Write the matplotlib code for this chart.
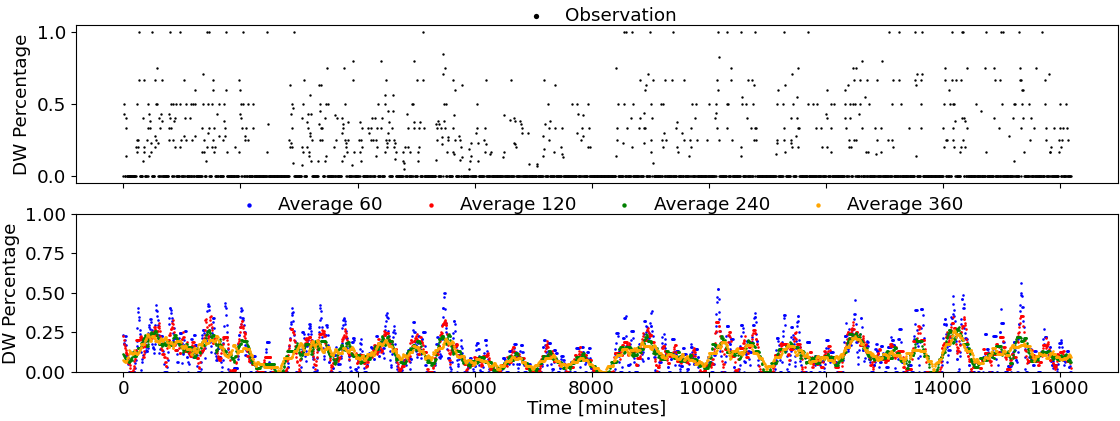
import numpy as np
import pandas as pd
import matplotlib
matplotlib.use("Agg")
import matplotlib.pyplot as plt

plt.rcParams['font.family'] = ['DejaVu Sans']
plt.rcParams['font.size'] = 13.2

# ---- Observation events (time [min], value); all other samples are 0 ----
seg1 = [
    (1.0, [250, 460, 800, 970, 1426, 1443, 1738, 2040, 2460]),
    (0.75, [563]), (0.71, [1370]),
    (0.667, [250, 347, 534, 648, 1045, 1517, 1977]),
    (0.6, [1216, 1517, 1738, 1977]),
    (0.5, [6, 233, 421, 546, 557, 801, 841, 886, 960, 1068, 1142, 1182, 1216, 1352, 1443,
           1511, 1625, 1721, 2011, 2051, 2125, 2210]),
    (0.43, [6, 432, 642, 784, 1596, 1983]),
    (0.4, [51, 335, 602, 801, 875, 1045, 1142, 2011]),
    (0.38, [443, 659, 858, 1721]), (0.36, [2460]),
    (0.333, [34, 404, 443, 631, 773, 801, 1352, 1454, 1528, 1727, 2023, 2097, 2221]),
    (0.3, [1443]),
    (0.28, [534, 1045, 1227, 1625, 1738, 2068]),
    (0.25, [216, 250, 404, 546, 773, 858, 972, 1068, 1170, 1369, 1528, 1710, 2080, 2125]),
    (0.23, [460, 574]),
    (0.2, [216, 250, 347, 546, 875, 972, 1426, 1511, 1568, 1909]),
    (0.167, [233, 347, 449, 1341, 1369, 1540, 1755, 1977, 2460]),
    (0.14, [34, 432]), (0.1, [330, 1409]),
]
seg2 = [
    (1.0, [2902, 5118]), (0.8, [4396, 3913, 4947]),
    (0.75, [3470, 3743]),
    (0.667, [3073, 3925, 4476, 5021, 5118]),
    (0.63, [3328, 3362, 2846]),
    (0.56, [3175, 4493, 4606]),
    (0.5, [2863, 3056, 3351, 3453, 3487, 3754, 4339, 4476, 4936, 4947]),
    (0.47, [2885]), (0.45, [3345, 4493, 4618]),
    (0.43, [2863, 3147, 3186, 4862]), (0.42, [3612]),
    (0.4, [3056, 3453, 3652, 3726, 4237, 4322, 4408]),
    (0.375, [3158, 3828, 4027, 4510, 4976, 5049]),
    (0.36, [3340, 3743]),
    (0.333, [2874, 3147, 3357, 3385, 3743, 4067, 4180, 4226, 4322, 4396, 4595, 4862, 4964,
             5044, 5135]),
    (0.3, [3158, 3737, 4197, 4493]), (0.28, [3175]),
    (0.25, [2829, 3203, 3357, 3385, 3630, 3754, 3840, 4027, 4055, 4237, 4266, 4311, 4481,
            4521, 4618]),
    (0.23, [2857, 3766, 4493, 4624]),
    (0.2, [2846, 2874, 3044, 3158, 3601, 3811, 4078, 4322, 4493, 4618, 4794, 4862, 5044]),
    (0.167, [3073, 3158, 3823, 3942, 4038, 4481, 4646, 4794, 4890, 5032]),
    (0.14, [3158, 3459, 3754, 4322]), (0.12, [4635]),
    (0.1, [3186, 3328, 3442, 3743, 4055, 4777, 5032]),
    (0.09, [2902, 4794]), (0.075, [3044, 3908]), (0.05, [4794]),
]
seg3 = [
    (0.85, [5458]), (0.75, [5486]), (0.71, [5475]),
    (0.667, [5645, 6179, 6611, 7190]),
    (0.63, [5787, 7372]), (0.6, [5657]),
    (0.5, [5475, 5498, 6037, 7259, 7662, 7758, 7946]),
    (0.43, [7758]), (0.42, [5645, 6497, 7844]), (0.4, [6679]), (0.39, [6611]),
    (0.38, [5361, 5475, 6679, 6781, 7264]),
    (0.36, [5344, 5384, 6804, 7207]),
    (0.333, [5361, 5441, 5486, 5628, 6037, 6179, 6804, 7264, 7372, 7491, 7827, 7946]),
    (0.3, [6026, 6804, 6918, 7758]),
    (0.28, [5742, 7179, 7844]), (0.27, [5441, 5543]),
    (0.25, [5344, 5543, 5657, 5742, 6168, 7264, 7815]),
    (0.23, [5929, 6043, 6679]), (0.22, [5441, 6179, 6690]),
    (0.2, [5759, 6707, 7474, 7946, 7974]), (0.19, [5912, 7179]),
    (0.167, [5532, 5628, 6179, 6270, 6492, 7349]),
    (0.15, [5645, 6270, 7491]), (0.14, [5941, 7179]), (0.13, [5782, 6480, 7503]),
    (0.11, [5344, 5742]), (0.1, [5912, 6054]),
    (0.08, [6923, 7065]), (0.07, [7065]), (0.05, [5912]),
]
seg4 = [
    (1.0, [8543, 8583, 8679, 8997, 9389, 10145, 10315, 10554, 10798]),
    (0.83, [10156]), (0.75, [8412, 10383]), (0.71, [8963]),
    (0.667, [8838, 9048, 9264, 9378, 9577, 10133, 10383, 10673, 10741]),
    (0.63, [8906, 10770]), (0.6, [8895, 10145]), (0.55, [10571]),
    (0.5, [8429, 8554, 8696, 9009, 9179, 9224, 9702, 9787, 10003, 10133, 10304, 10326, 10571,
           10639, 10752]),
    (0.44, [8895, 10116]),
    (0.4, [8679, 8810, 9020, 9775, 10099, 10656]),
    (0.375, [9452]),
    (0.333, [8429, 8600, 8810, 8884, 8906, 9452, 9702, 10145, 10315, 10724, 10781, 10809]),
    (0.3, [9224, 9548]),
    (0.25, [8429, 9009, 9207, 9281, 9577, 9679, 9792, 9974, 10156, 10400, 10770, 10809]),
    (0.23, [8543, 8884]),
    (0.2, [8696, 9224, 9463, 9690, 10554]),
    (0.167, [9020, 9474]),
    (0.14, [8412, 9662, 10542]), (0.09, [9054]),
]
seg5 = [
    (1.0, [11280, 11689, 13087, 13251]),
    (0.8, [12615, 12967]), (0.75, [11524, 12473, 12513]), (0.71, [11422]),
    (0.667, [12473, 12575, 12689, 12871, 13143, 13251]),
    (0.63, [11292, 12377]), (0.6, [11178, 12007, 12320]), (0.55, [11496, 12672]),
    (0.5, [11167, 11269, 11433, 11689, 11780, 11848, 12087, 12149, 12331, 12405, 12473, 12501,
           12587, 12729, 13138, 13280]),
    (0.43, [12007, 12575]),
    (0.4, [11411, 11507, 12030, 12331, 12405]),
    (0.333, [11297, 11519, 11536, 11837, 11922, 12093, 12343, 12615, 12843, 12939, 13427]),
    (0.28, [11496]),
    (0.25, [11167, 11292, 11411, 12399, 12490, 12513, 12882, 13058, 13126]),
    (0.23, [11155, 11411]),
    (0.2, [11422, 11536, 11933, 12019, 12399, 12416, 13155]),
    (0.167, [11309, 12087, 12689, 12729, 12944]),
    (0.15, [11155, 12859]),
]
seg6 = [
    (1.0, [13524, 13638, 14161, 14320, 14348, 14746, 15001, 15018, 15314, 15694]),
    (0.75, [14036, 14405, 14717, 14871, 15314, 15586]),
    (0.71, [13541, 13638, 15813]),
    (0.667, [13541, 13638, 14019, 14149, 14223, 14320, 14888, 14961, 15314, 15342, 15740]),
    (0.63, [13541]), (0.6, [14104, 15342, 15359]),
    (0.5, [13621, 14019, 14121, 14166, 14189, 14564, 15018, 15200, 15228, 15353, 15473, 15757,
           15995, 16109]),
    (0.45, [14649]),
    (0.4, [14320, 14359, 14876, 15200, 15359, 15495]),
    (0.38, [14206, 14376]),
    (0.333, [13621, 14007, 14166, 14422, 14961, 15342, 15552, 15757, 15910, 15995, 16052, 16120]),
    (0.28, [15132]),
    (0.25, [14053, 14075, 14166, 14337, 15495, 15757, 15984, 16041, 16137]),
    (0.2, [14019, 14178, 14320, 14388, 15853, 16007]),
    (0.167, [14303, 14734, 15370, 15825, 15842, 15984]),
    (0.14, [13541]), (0.1, [15228]),
]
segments = [seg1, seg2, seg3, seg4, seg5, seg6]

t_end = 16185          # last observation time [min]
step = 7.5             # sampling interval [min]
windows = [8, 16, 32, 48]          # samples in 60/120/240/360 minutes
avg_labels = ['Average 60', 'Average 120', 'Average 240', 'Average 360']
avg_colors = ['blue', 'red', 'green', 'orange']

# ---- Build the observation series on the sampling grid ----
time = np.arange(0, t_end + step, step)
obs = np.zeros(len(time))
events = sorted((t, v) for seg in segments for v, ts in seg for t in ts)
for t, v in events:
    i0 = int(round(t / step))
    for d in [0, 1, -1, 2, -2, 3, -3, 4, -4]:
        i = i0 + d
        if 0 <= i < len(obs) and obs[i] == 0:
            obs[i] = v
            break

s_obs = pd.Series(obs)

fig = plt.figure(figsize=(11.2, 4.21), dpi=100)
ax1 = fig.add_axes([0.0679, 0.5653, 0.9303, 0.3753])
ax2 = fig.add_axes([0.0679, 0.1164, 0.9303, 0.3753], sharex=ax1)

ax1.scatter(time, obs, s=3, color='black', linewidths=0, label='Observation')
ax1.set_yticks([0.0, 0.5, 1.0])
ax1.set_ylabel('DW Percentage')
ax1.tick_params(labelbottom=False)
ax1.legend(loc='lower center', bbox_to_anchor=(0.5, 0.955), frameon=False,
           markerscale=2.2, borderaxespad=0, handletextpad=0.6)

for w, lab, col in zip(windows, avg_labels, avg_colors):
    avg = s_obs.rolling(w, min_periods=1, center=True).mean()
    ax2.scatter(time, avg, s=3.5, color=col, linewidths=0, label=lab)
ax2.set_ylim(0, 1)
ax2.set_yticks([0, 0.25, 0.5, 0.75, 1.0])
ax2.set_ylabel('DW Percentage')
ax2.set_xlabel('Time [minutes]', labelpad=1)
ax2.tick_params(axis='x', pad=2.5)
ax2.legend(loc='lower center', bbox_to_anchor=(0.5, 0.955), frameon=False, ncol=4,
           markerscale=1.7, borderaxespad=0, handletextpad=0.6, columnspacing=1.6)

fig.savefig('out.png', dpi=100)
